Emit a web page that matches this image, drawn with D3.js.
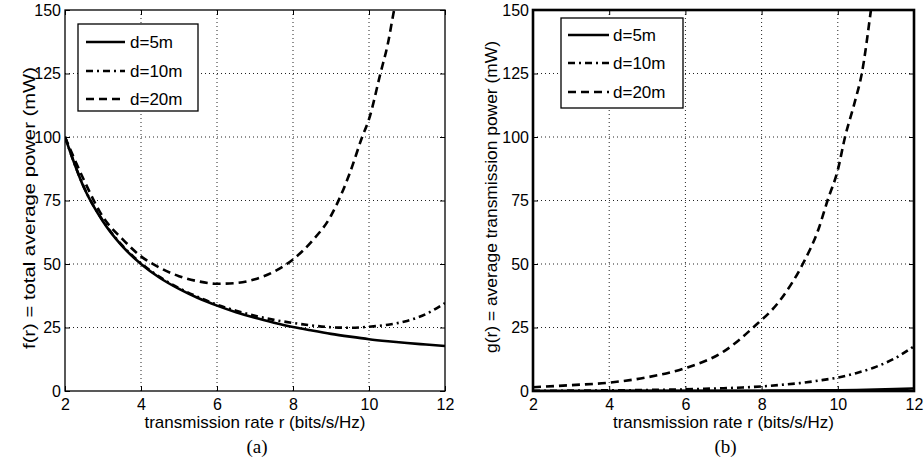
<!DOCTYPE html>
<html>
<head>
<meta charset="utf-8">
<script src="https://cdn.jsdelivr.net/npm/d3@7"></script>
<style>
  body { margin: 0; background: #fff; }
  text { font-family: 'Liberation Sans', Arial, sans-serif; fill: #000; }
</style>
</head>
<body>
<div id="chart"></div>
<script>
// transmission rate r (bits/s/Hz)
const rateGrid = [2, 2.5, 3, 3.5, 4, 4.5, 5, 5.5, 6, 6.5, 7, 7.5, 8, 8.5, 9, 9.5, 10, 10.5, 11, 11.5, 12]

// (a) total average power f(r) (mW)
const totalD5 = [100, 80, 66.7, 57.1, 50, 44.5, 40.2, 36.6, 33.6, 31, 28.8, 26.9, 25.2, 23.8, 22.5, 21.4, 20.4, 19.6, 18.9, 18.3, 17.7]
const totalD10 = [100, 80.2, 67, 57.4, 50.3, 44.8, 40.5, 37, 34, 31.6, 29.6, 28, 26.8, 25.8, 25.1, 24.9, 25.3, 26.1, 27.6, 30.3, 34.6]
const totalD20Rate = [2, 2.5, 3, 3.5, 4, 4.5, 5, 5.5, 6, 6.5, 7, 7.5, 8, 8.5, 9, 9.5, 9.82, 10, 10.3, 10.5, 10.66, 10.8]
const totalD20 = [100, 83, 68.5, 60, 53, 48.5, 45.2, 43.2, 42.2, 42.5, 44, 47, 51.8, 59, 69, 86, 100, 107, 125, 137, 150, 160]

// (b) average transmission power g(r) (mW)
const txD5 = [0, 0, 0.01, 0.01, 0.02, 0.03, 0.03, 0.04, 0.05, 0.06, 0.08, 0.1, 0.12, 0.15, 0.2, 0.25, 0.3, 0.4, 0.55, 0.75, 1.0]
const txD10 = [0.1, 0.1, 0.15, 0.2, 0.25, 0.3, 0.4, 0.5, 0.65, 0.85, 1.1, 1.4, 1.8, 2.4, 3.1, 4.1, 5.3, 7.1, 9.5, 12.9, 17.6]
const txD20Rate = [2, 3, 4, 5, 6, 7, 7.78, 8.5, 9.08, 9.5, 9.73, 10, 10.19, 10.45, 10.63, 10.87, 11]
const txD20 = [1.5, 2.3, 3.3, 5.4, 9, 15.5, 25, 36, 50, 64, 75, 87, 100, 114, 125, 150, 165]

const legendLabels = ['d=5m', 'd=10m', 'd=20m']
const xTicks = [2, 4, 6, 8, 10, 12]
const yTicks = [0, 25, 50, 75, 100, 125, 150]

const chartWidth = 924
const chartHeight = 465

const dashStyles = [null, '7,4,2,4', '8,5']

const svg = d3
  .select('#chart')
  .append('svg')
  .attr('width', chartWidth)
  .attr('height', chartHeight)

function zip(xs, ys) {
  return xs.map((x, i) => [x, ys[i]])
}

const panels = [
  {
    id: 'a',
    left: 65, right: 445, top: 10, bottom: 391,
    frameWidth: 1.3,
    yLabel: 'f(r) = total average power (mW)',
    yLabelX: 35, yLabelY: 208, yLabelLen: 282,
    series: [zip(rateGrid, totalD5), zip(rateGrid, totalD10), zip(totalD20Rate, totalD20)],
    legend: { x: 78, y: 24, w: 120, h: 87, rows: [42, 71, 99], lineX: [86, 125], textX: 130 },
  },
  {
    id: 'b',
    left: 533, right: 914, top: 10, bottom: 391,
    frameWidth: 2.6,
    yLabel: 'g(r) = average transmission power (mW)',
    yLabelX: 497, yLabelY: 197, yLabelLen: 312,
    series: [zip(rateGrid, txD5), zip(rateGrid, txD10), zip(txD20Rate, txD20)],
    legend: { x: 561, y: 18, w: 122, h: 90, rows: [35, 63, 92], lineX: [568, 609], textX: 613 },
  },
]

function drawPanel(p) {
  const g = svg.append('g').attr('class', 'panel-' + p.id)

  const scaleX = d3.scaleLinear().domain([2, 12]).range([p.left, p.right])
  const scaleY = d3.scaleLinear().domain([0, 150]).range([p.bottom, p.top])

  // 遮罩
  g.append('clipPath')
    .attr('id', 'clip-' + p.id)
    .append('rect')
    .attr('x', p.left)
    .attr('y', p.top)
    .attr('width', p.right - p.left)
    .attr('height', p.bottom - p.top)

  // grid
  const grid = g.append('g').attr('class', 'grid')
  grid.selectAll('line.gx')
    .data(xTicks.slice(1, -1))
    .enter()
    .append('line')
    .attr('x1', d => scaleX(d))
    .attr('x2', d => scaleX(d))
    .attr('y1', p.top)
    .attr('y2', p.bottom)
  grid.selectAll('line.gy')
    .data(yTicks.slice(1, -1))
    .enter()
    .append('line')
    .attr('x1', p.left)
    .attr('x2', p.right)
    .attr('y1', d => scaleY(d))
    .attr('y2', d => scaleY(d))
  grid.selectAll('line')
    .attr('stroke', '#222')
    .attr('stroke-width', 1)
    .attr('stroke-dasharray', '1,3')

  // curves
  const line = d3.line()
    .x(d => scaleX(d[0]))
    .y(d => scaleY(d[1]))
    .curve(d3.curveMonotoneX)

  g.append('g')
    .attr('clip-path', 'url(#clip-' + p.id + ')')
    .selectAll('path')
    .data(p.series)
    .enter()
    .append('path')
    .attr('d', line)
    .attr('fill', 'none')
    .attr('stroke', '#000')
    .attr('stroke-width', 2.6)
    .attr('stroke-dasharray', (d, i) => dashStyles[i])

  // axes (ticks inward, MATLAB box)
  const axisBottom = d3.axisBottom(scaleX).tickValues(xTicks).tickSize(-5).tickPadding(8)
  const axisLeft = d3.axisLeft(scaleY).tickValues(yTicks).tickSize(-5).tickPadding(4)
  const axisTop = d3.axisTop(scaleX).tickValues(xTicks).tickSize(-5).tickFormat('')
  const axisRight = d3.axisRight(scaleY).tickValues(yTicks).tickSize(-5).tickFormat('')

  const ax = [
    g.append('g').attr('transform', 'translate(0,' + p.bottom + ')').call(axisBottom),
    g.append('g').attr('transform', 'translate(' + p.left + ',0)').call(axisLeft),
    g.append('g').attr('transform', 'translate(0,' + p.top + ')').call(axisTop),
    g.append('g').attr('transform', 'translate(' + p.right + ',0)').call(axisRight),
  ]
  ax.forEach(a => {
    a.attr('font-size', null).attr('font-family', null)
    a.select('.domain').remove()
    a.selectAll('.tick line').attr('stroke', '#000').attr('stroke-width', 1)
    a.selectAll('text').style('font-size', '16px').attr('fill', '#000')
  })

  g.append('rect')
    .attr('x', p.left)
    .attr('y', p.top)
    .attr('width', p.right - p.left)
    .attr('height', p.bottom - p.top)
    .attr('fill', 'none')
    .attr('stroke', '#000')
    .attr('stroke-width', p.frameWidth)

  // labels
  const midX = (p.left + p.right) / 2
  g.append('text')
    .attr('x', midX)
    .attr('y', 428)
    .attr('text-anchor', 'middle')
    .style('font-size', '17px')
    .text('transmission rate r (bits/s/Hz)')

  g.append('text')
    .attr('transform', 'translate(' + p.yLabelX + ',' + p.yLabelY + ') rotate(-90)')
    .attr('text-anchor', 'middle')
    .attr('textLength', p.yLabelLen)
    .attr('lengthAdjust', 'spacingAndGlyphs')
    .style('font-size', '17px')
    .text(p.yLabel)

  g.append('text')
    .attr('x', midX + 2)
    .attr('y', 453)
    .attr('text-anchor', 'middle')
    .style('font-family', "'Liberation Serif', 'Times New Roman', serif")
    .style('font-size', '19px')
    .text('(' + p.id + ')')

  // legend
  const lg = p.legend
  const legend = g.append('g').attr('class', 'legend')
  legend.append('rect')
    .attr('x', lg.x)
    .attr('y', lg.y)
    .attr('width', lg.w)
    .attr('height', lg.h)
    .attr('fill', '#fff')
    .attr('stroke', '#000')
    .attr('stroke-width', 1.3)

  const rows = legend.selectAll('g.row')
    .data(legendLabels)
    .enter()
    .append('g')
    .attr('class', 'row')
  rows.append('line')
    .attr('x1', lg.lineX[0])
    .attr('x2', lg.lineX[1])
    .attr('y1', (d, i) => lg.rows[i])
    .attr('y2', (d, i) => lg.rows[i])
    .attr('stroke', '#000')
    .attr('stroke-width', 2.6)
    .attr('stroke-dasharray', (d, i) => dashStyles[i])
  rows.append('text')
    .attr('x', lg.textX)
    .attr('y', (d, i) => lg.rows[i])
    .attr('dy', '0.36em')
    .style('font-size', '17px')
    .text(d => d)
}

panels.forEach(drawPanel)
</script>
</body>
</html>
